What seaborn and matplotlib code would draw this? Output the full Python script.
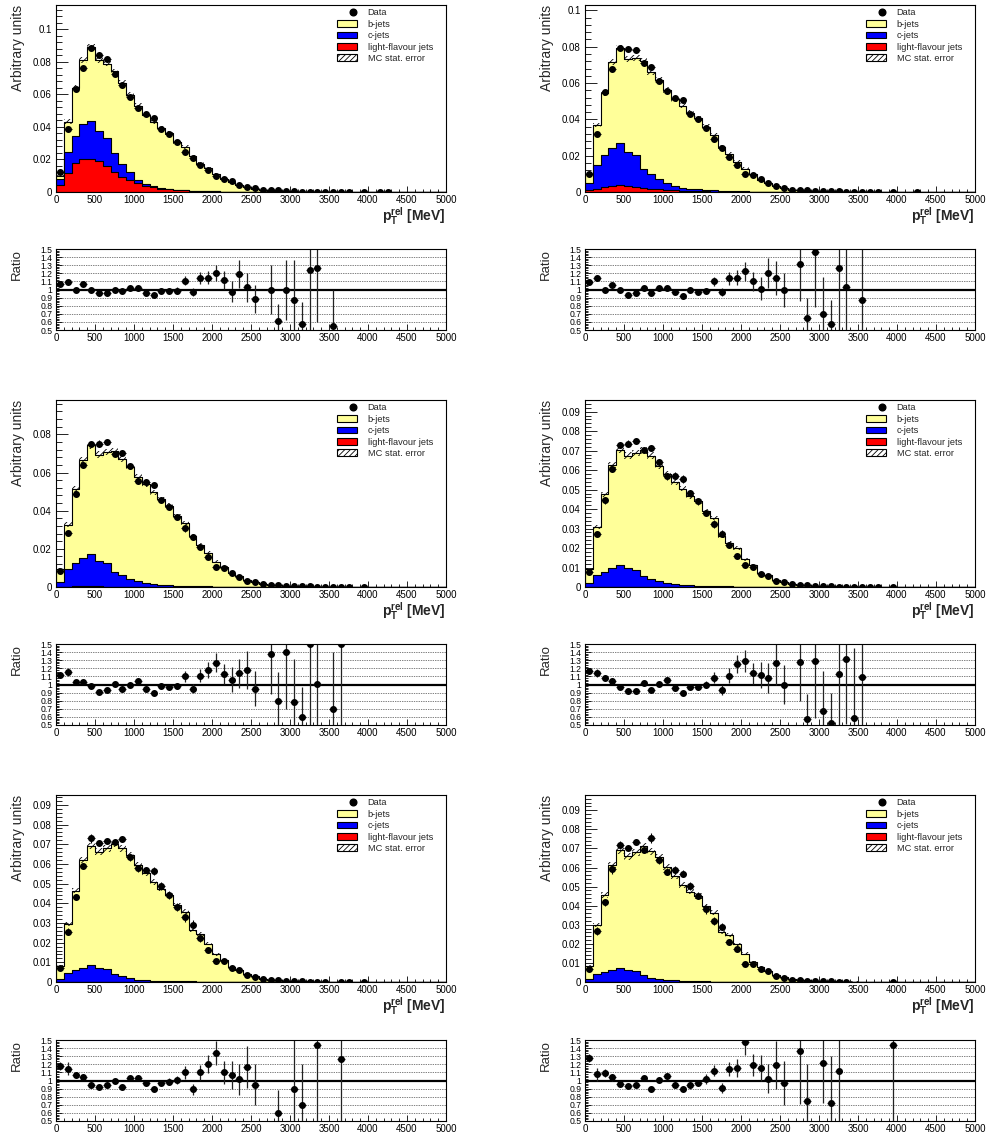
import numpy as np
import matplotlib
matplotlib.use("Agg")
import matplotlib.pyplot as plt
from matplotlib.ticker import MultipleLocator, FuncFormatter
from matplotlib.patches import Patch
from matplotlib.lines import Line2D
from matplotlib.legend_handler import HandlerLine2D
import seaborn as sns

nan = np.nan

# 100 MeV bins from 0 to 5000 MeV
EDGES = np.arange(0, 5001, 100)
CENTERS = (EDGES[:-1] + EDGES[1:]) / 2

LABELS = ["Data", "b-jets", "c-jets", "light-flavour jets", "MC stat. error"]

# ---- panel 1 ----
B1 = [0.0018, 0.0186, 0.0295, 0.0395, 0.0451, 0.0435, 0.0456, 0.0505, 0.0495, 0.0474, 0.0454, 0.0422, 0.0398, 0.0371, 0.0342, 0.0295, 0.0266, 0.0211, 0.0168, 0.0143, 0.0105, 0.0079, 0.0060, 0.0043, 0.0030, 0.0020, 0.0012, 0.0008, 0.0006, 0.0004, 0.0003, 0.0002, 0.0002, 0.0001, 0.0001, 0.0001, 0.00005, 0.00005]
C1 = [0.0041, 0.0129, 0.0164, 0.0213, 0.0235, 0.0185, 0.0175, 0.0113, 0.0082, 0.0048, 0.0020, 0.0013, 0.0006, 0.0004, 0.0003, 0.0002, 0.0002, 0.0001, 0.0001]
L1 = [0.0041, 0.0118, 0.0180, 0.0206, 0.0204, 0.0190, 0.0159, 0.0124, 0.0093, 0.0076, 0.0056, 0.0039, 0.0029, 0.0021, 0.0016, 0.0012, 0.0010, 0.0008, 0.0006, 0.0005, 0.0004, 0.0003, 0.0002, 0.0002, 0.0001, 0.0001]
DATA1 = [0.0125, 0.0390, 0.0635, 0.0760, 0.0885, 0.0845, 0.0820, 0.0725, 0.0655, 0.0585, 0.0515, 0.0480, 0.0454, 0.0388, 0.0355, 0.0309, 0.0247, 0.0212, 0.0169, 0.0134, 0.0097, 0.0082, 0.0066, 0.0041, 0.0031, 0.0022, 0.0014, 0.0012, 0.0010, 0.0006, 0.0004, 0.0003, 0.0003, 0.0002, 0.0002, 0.0001, 0.0001, 0.0001, 0, 0.0001, 0, 0.0001, 0.0001]
RATIO1 = [1.07, 1.09, 1.00, 1.07, 0.995, 0.955, 0.96, 1.00, 0.98, 1.015, 1.015, 0.96, 0.93, 0.985, 0.985, 0.985, 1.11, 0.97, 1.14, 1.145, 1.20, 1.115, 0.97, 1.19, 1.025, 0.88, nan, 1.00, 0.61, 0.99, 0.87, 0.58, 1.24, 1.265, nan, 0.55]
RATIO_ERR1 = [0.03, 0.03, 0.02, 0.02, 0.02, 0.02, 0.02, 0.02, 0.02, 0.02, 0.025, 0.025, 0.03, 0.03, 0.035, 0.04, 0.06, 0.05, 0.07, 0.08, 0.10, 0.11, 0.13, 0.17, 0.18, 0.17, nan, 0.30, 0.21, 0.37, 0.50, 0.27, 0.75, 0.67, nan, 0.44]

# ---- panel 2 ----
B2 = [0.0051, 0.0221, 0.0341, 0.0470, 0.0525, 0.0511, 0.0535, 0.0591, 0.0558, 0.0548, 0.0513, 0.0478, 0.0450, 0.0419, 0.0391, 0.0349, 0.0305, 0.0242, 0.0206, 0.0161, 0.0125, 0.0098, 0.0066, 0.0048, 0.0032, 0.0022, 0.0013, 0.0009, 0.0007, 0.0005, 0.0004, 0.0003, 0.0002, 0.0002, 0.0001, 0.0001, 0.00005, 0.00005]
C2 = [0.0037, 0.0130, 0.0175, 0.0211, 0.0231, 0.0188, 0.0175, 0.0107, 0.0083, 0.0055, 0.0039, 0.0024, 0.0017, 0.0013, 0.0011, 0.0008, 0.0007, 0.0005, 0.0005, 0.0004, 0.0003, 0.0002, 0.0002, 0.0001, 0.0001]
L2 = [0.0013, 0.0018, 0.0028, 0.0033, 0.0037, 0.0033, 0.0028, 0.0022, 0.0018, 0.0015, 0.0011, 0.0009, 0.0007, 0.0005, 0.0004, 0.0003, 0.0002, 0.0002, 0.0001, 0.0001]
DATA2 = [0.0098, 0.0319, 0.0550, 0.0679, 0.0793, 0.0788, 0.0780, 0.0710, 0.0686, 0.0613, 0.0554, 0.0520, 0.0507, 0.0430, 0.0402, 0.0354, 0.0290, 0.0244, 0.0194, 0.0151, 0.0101, 0.0096, 0.0070, 0.0048, 0.0033, 0.0022, 0.0013, 0.0011, 0.0009, 0.0006, 0.0005, 0.0004, 0.0003, 0.0002, 0.0002, 0.0001, 0.0001, 0.0001, 0, 0.0001, 0, 0, 0.0001]
RATIO2 = [1.09, 1.14, 1.00, 1.055, 1.00, 0.935, 0.96, 1.015, 0.955, 1.02, 1.015, 0.975, 0.915, 0.995, 0.975, 0.98, 1.10, 0.97, 1.14, 1.145, 1.225, 1.10, 1.01, 1.205, 1.145, 0.99, nan, 1.31, 0.65, 1.46, 0.70, 0.57, 1.265, 1.025, nan, 0.865]
RATIO_ERR2 = [0.04, 0.04, 0.02, 0.02, 0.02, 0.02, 0.02, 0.02, 0.02, 0.025, 0.025, 0.025, 0.03, 0.03, 0.035, 0.04, 0.06, 0.05, 0.08, 0.09, 0.12, 0.12, 0.14, 0.19, 0.21, 0.21, nan, 0.45, 0.25, 0.68, 0.45, 0.30, 0.80, 1.0, nan, 0.8]

# ---- panel 3 ----
B3 = [0.0068, 0.0235, 0.0389, 0.0514, 0.0571, 0.0556, 0.0581, 0.0632, 0.0607, 0.0584, 0.0543, 0.0519, 0.0480, 0.0448, 0.0416, 0.0365, 0.0330, 0.0260, 0.0217, 0.0177, 0.0131, 0.0104, 0.0073, 0.0056, 0.0035, 0.0027, 0.0018, 0.0012, 0.0009, 0.0007, 0.0005, 0.0004, 0.0003, 0.0002, 0.0002, 0.0001, 0.0001, 0.00005]
C3 = [0.0026, 0.0090, 0.0121, 0.0147, 0.0169, 0.0135, 0.0125, 0.0078, 0.0061, 0.0043, 0.0032, 0.0021, 0.0016, 0.0012, 0.0009, 0.0007, 0.0006, 0.0005, 0.0004, 0.0003, 0.0002, 0.0002, 0.0001, 0.0001]
L3 = [0.0001, 0.0002, 0.0003, 0.0003, 0.0003, 0.0003, 0.0002, 0.0002, 0.0001, 0.0001]
DATA3 = [0.0083, 0.0283, 0.0487, 0.0637, 0.0747, 0.0752, 0.0761, 0.0699, 0.0703, 0.0634, 0.0558, 0.0549, 0.0535, 0.0455, 0.0421, 0.0368, 0.0310, 0.0262, 0.0209, 0.0159, 0.0106, 0.0097, 0.0071, 0.0053, 0.0032, 0.0025, 0.0016, 0.0012, 0.0009, 0.0006, 0.0005, 0.0004, 0.0003, 0.0002, 0.0002, 0.0001, 0.0001, 0.0001, 0, 0.0001]
RATIO3 = [1.12, 1.15, 1.03, 1.03, 0.98, 0.91, 0.93, 1.01, 0.94, 0.99, 1.04, 0.95, 0.90, 0.98, 0.97, 0.98, 1.10, 0.95, 1.11, 1.18, 1.27, 1.13, 1.06, 1.14, 1.18, 0.95, nan, 1.38, 0.80, 1.40, 0.78, 0.60, 1.50, 1.01, nan, 0.70, 1.50]
RATIO_ERR3 = [0.04, 0.05, 0.03, 0.025, 0.02, 0.02, 0.02, 0.02, 0.02, 0.025, 0.03, 0.03, 0.03, 0.035, 0.04, 0.04, 0.07, 0.06, 0.08, 0.10, 0.12, 0.12, 0.15, 0.18, 0.23, 0.22, nan, 0.50, 0.36, 0.70, 0.53, 0.37, 1.0, 0.8, nan, 0.7, 1.0]

# ---- panel 4 ----
B4 = [0.0069, 0.0247, 0.0398, 0.0532, 0.0592, 0.0580, 0.0600, 0.0646, 0.0635, 0.0594, 0.0559, 0.0526, 0.0495, 0.0458, 0.0434, 0.0383, 0.0350, 0.0256, 0.0225, 0.0197, 0.0140, 0.0111, 0.0072, 0.0061, 0.0035, 0.0026, 0.0017, 0.0012, 0.0009, 0.0007, 0.0005, 0.0004, 0.0003, 0.0002, 0.0002, 0.0001, 0.0001, 0.00005]
C4 = [0.0020, 0.0060, 0.0076, 0.0093, 0.0110, 0.0093, 0.0085, 0.0054, 0.0039, 0.0029, 0.0021, 0.0014, 0.0010, 0.0009, 0.0007, 0.0006, 0.0005, 0.0004, 0.0003, 0.0002, 0.0002, 0.0001, 0.0001]
L4 = [0.0001, 0.0001, 0.0002, 0.0002, 0.0002, 0.0002, 0.0002, 0.0001, 0.0001]
DATA4 = [0.0078, 0.0272, 0.0445, 0.0606, 0.0730, 0.0736, 0.0748, 0.0701, 0.0713, 0.0640, 0.0568, 0.0571, 0.0554, 0.0481, 0.0441, 0.0381, 0.0325, 0.0273, 0.0216, 0.0159, 0.0112, 0.0104, 0.0069, 0.0057, 0.0031, 0.0024, 0.0014, 0.0012, 0.0009, 0.0005, 0.0004, 0.0003, 0.0002, 0.0002, 0.0001, 0.0001, 0.0001, 0.0001, 0, 0.0001]
RATIO4 = [1.165, 1.14, 1.08, 1.045, 0.97, 0.915, 0.925, 1.02, 0.935, 1.01, 1.05, 0.955, 0.90, 0.97, 0.97, 1.00, 1.085, 0.935, 1.11, 1.25, 1.29, 1.14, 1.12, 1.08, 1.26, 1.00, nan, 1.28, 0.58, 1.29, 0.67, 0.53, 1.13, 1.31, 0.59, 1.09]
RATIO_ERR4 = [0.04, 0.05, 0.04, 0.03, 0.02, 0.02, 0.02, 0.02, 0.02, 0.025, 0.03, 0.03, 0.03, 0.035, 0.04, 0.04, 0.07, 0.06, 0.09, 0.11, 0.13, 0.13, 0.16, 0.18, 0.27, 0.24, nan, 0.48, 0.30, 0.70, 0.50, 0.37, 0.70, 0.80, 0.86, 0.80]

# ---- panel 5 ----
B5 = [0.0066, 0.0248, 0.0405, 0.0549, 0.0606, 0.0591, 0.0613, 0.0659, 0.0650, 0.0625, 0.0582, 0.0544, 0.0502, 0.0469, 0.0437, 0.0387, 0.0354, 0.0260, 0.0244, 0.0193, 0.0140, 0.0109, 0.0076, 0.0059, 0.0039, 0.0029, 0.0017, 0.0012, 0.0009, 0.0007, 0.0005, 0.0004, 0.0003, 0.0002, 0.0002, 0.0001, 0.0001, 0.00005]
C5 = [0.0016, 0.0045, 0.0058, 0.0069, 0.0083, 0.0069, 0.0065, 0.0041, 0.0029, 0.0020, 0.0012, 0.0008, 0.0007, 0.0006, 0.0005, 0.0004, 0.0003, 0.0003, 0.0002, 0.0002, 0.0001, 0.0001]
L5 = [0.0001, 0.0001, 0.0001, 0.0002, 0.0002, 0.0002, 0.0001, 0.0001]
DATA5 = [0.0071, 0.0255, 0.0433, 0.0589, 0.0730, 0.0708, 0.0718, 0.0710, 0.0725, 0.0633, 0.0577, 0.0569, 0.0565, 0.0487, 0.0442, 0.0382, 0.0328, 0.0292, 0.0221, 0.0165, 0.0105, 0.0105, 0.0071, 0.0059, 0.0034, 0.0025, 0.0014, 0.0012, 0.0009, 0.0004, 0.0004, 0.0003, 0.0002, 0.0002, 0.0001, 0, 0.0001, 0.0001, 0, 0.0001]
RATIO5 = [1.18, 1.145, 1.065, 1.045, 0.945, 0.925, 0.95, 1.00, 0.925, 1.025, 1.035, 0.97, 0.895, 0.97, 0.985, 1.01, 1.10, 0.89, 1.10, 1.205, 1.34, 1.10, 1.065, 1.015, 1.165, 0.95, nan, nan, 0.60, nan, 0.89, 0.70, nan, 1.435, nan, nan, 1.27]
RATIO_ERR5 = [0.05, 0.08, 0.04, 0.03, 0.03, 0.02, 0.02, 0.02, 0.02, 0.03, 0.03, 0.03, 0.03, 0.04, 0.04, 0.05, 0.08, 0.07, 0.09, 0.11, 0.15, 0.14, 0.17, 0.19, 0.26, 0.25, nan, nan, 0.28, nan, 0.80, 0.50, nan, 1.0, nan, nan, 0.80]

# ---- panel 6 ----
B6 = [0.0071, 0.0258, 0.0403, 0.0549, 0.0616, 0.0597, 0.0623, 0.0676, 0.0661, 0.0640, 0.0591, 0.0545, 0.0503, 0.0469, 0.0447, 0.0395, 0.0361, 0.0261, 0.0244, 0.0196, 0.0148, 0.0104, 0.0079, 0.0058, 0.0035, 0.0026, 0.0014, 0.0012, 0.0009, 0.0007, 0.0005, 0.0004, 0.0003, 0.0002, 0.0002, 0.0001, 0.0001, 0.00005]
C6 = [0.0013, 0.0039, 0.0052, 0.0064, 0.0072, 0.0060, 0.0055, 0.0035, 0.0023, 0.0014, 0.0011, 0.0008, 0.0006, 0.0005, 0.0004, 0.0003, 0.0002, 0.0002, 0.0002, 0.0002, 0.0001, 0.0001]
L6 = [0.0001, 0.0001, 0.0001, 0.0001, 0.0002, 0.0001, 0.0001]
DATA6 = [0.0067, 0.0268, 0.0418, 0.0591, 0.0719, 0.0702, 0.0732, 0.0690, 0.0754, 0.0640, 0.0579, 0.0588, 0.0567, 0.0505, 0.0451, 0.0381, 0.0319, 0.0289, 0.0211, 0.0175, 0.0096, 0.0096, 0.0067, 0.0058, 0.0032, 0.0023, 0.0009, 0.0012, 0.0007, 0.0004, 0.0004, 0.0003, 0.0002, 0.0002, 0, 0, 0, 0, 0, 0.0001]
RATIO6 = [1.28, 1.08, 1.09, 1.04, 0.96, 0.93, 0.94, 1.03, 0.89, 1.01, 1.05, 0.95, 0.90, 0.94, 0.97, 1.02, 1.12, 0.91, 1.14, 1.15, 1.47, 1.19, 1.15, 1.02, 1.19, 0.97, nan, 1.37, 0.75, nan, 1.22, 0.72, 1.12, nan, nan, nan, nan, nan, nan, 1.44]
RATIO_ERR6 = [0.05, 0.08, 0.05, 0.04, 0.03, 0.02, 0.02, 0.02, 0.03, 0.03, 0.03, 0.03, 0.03, 0.04, 0.04, 0.06, 0.07, 0.06, 0.09, 0.11, 0.15, 0.14, 0.16, 0.18, 0.30, 0.27, nan, 0.66, 0.45, nan, 0.50, 0.58, 0.75, nan, nan, nan, nan, nan, nan, 1.0]

# y-axis range and major tick step of each main pad
Y_MAX = [0.115, 0.103, 0.098, 0.096, 0.095, 0.098]
Y_STEP = [0.02, 0.02, 0.02, 0.01, 0.01, 0.01]

# variance per unit content used for the MC statistical band
MC_STAT_VAR = 4e-5

YELLOW = "#FFFF99"
BLUE = "#0000FF"
RED = "#FF0000"

sns.set_theme(style="ticks")
plt.rcParams.update({
    "font.family": ["Liberation Sans", "DejaVu Sans"],
    "mathtext.fontset": "custom",
    "mathtext.rm": "Liberation Sans",
    "mathtext.bf": "Liberation Sans:bold",
    "mathtext.it": "Liberation Sans:italic",
    "hatch.linewidth": 0.6,
    "hatch.color": "black",
    "axes.linewidth": 0.8,
    "axes.edgecolor": "black",
    "figure.facecolor": "white",
    "axes.facecolor": "white",
})

W, H = 989, 1135
fig = plt.figure(figsize=(W / 100, H / 100), dpi=100)


def add_axes_px(left, top, width, height):
    return fig.add_axes([left / W, 1 - (top + height) / H, width / W, height / H])


def fill(values, value=0.0):
    arr = np.full(len(CENTERS), value, dtype=float)
    arr[:len(values)] = values
    return arr


class RightMarkerHandler(HandlerLine2D):
    def get_xdata(self, legend, xdescent, ydescent, width, height, fontsize):
        x = -xdescent + 0.8 * width
        return np.array([x]), np.array([x])


fmt_g = FuncFormatter(lambda v, p: f"{v:g}")
BIN_LIST = [float(e) for e in EDGES]
TICK_FS = 7.0
RATIO_Y_FS = 6.2
MARKER = 4.0


def draw_panel(ax, rax, b, c, l, data, ratio, rerr, ymax, ystep):
    b, c, l, data = fill(b), fill(c), fill(l), fill(data)
    ratio, rerr = fill(ratio, nan), fill(rerr, nan)
    total = b + c + l
    c_stack = c + l

    # stacked histograms, drawn from the full sum down to the lowest layer
    for heights, colour in [(total, YELLOW), (c_stack, BLUE), (l, RED)]:
        sns.histplot(x=CENTERS, weights=heights, bins=BIN_LIST, element="step",
                     fill=True, color=colour, alpha=1, edgecolor="black",
                     linewidth=0.8, ax=ax, zorder=1, legend=False)

    # MC statistical uncertainty band
    err = np.sqrt(total * MC_STAT_VAR)
    lo = np.append(total - err, total[-1] - err[-1])
    hi = np.append(total + err, total[-1] + err[-1])
    ax.fill_between(EDGES, lo, hi, step="post", facecolor="none",
                    edgecolor="black", hatch="//////", linewidth=0, zorder=2)

    # data points; their errors follow the ratio errors
    with np.errstate(invalid="ignore"):
        rel = np.nan_to_num(rerr / ratio)
    m = data > 0
    ax.errorbar(CENTERS[m], data[m], xerr=50, yerr=data[m] * rel[m], fmt="o",
                ms=MARKER, color="black", ecolor="black", elinewidth=0.8,
                capsize=0, zorder=3)

    ax.set_xlim(0, 5000)
    ax.set_ylim(0, ymax)
    ax.xaxis.set_major_locator(MultipleLocator(500))
    ax.xaxis.set_minor_locator(MultipleLocator(100))
    ax.yaxis.set_major_locator(MultipleLocator(ystep))
    ax.yaxis.set_minor_locator(MultipleLocator(ystep / 5))
    ax.yaxis.set_major_formatter(fmt_g)
    ax.xaxis.set_major_formatter(fmt_g)
    ax.tick_params(axis="both", which="both", direction="in", top=False,
                   right=False, width=0.6, colors="black", labelsize=TICK_FS)
    ax.tick_params(axis="y", which="major", length=8.5, pad=3.2)
    ax.tick_params(axis="y", which="minor", length=4.2)
    ax.tick_params(axis="x", which="major", length=4.5, pad=2.2)
    ax.tick_params(axis="x", which="minor", length=2.3)
    for s in ax.spines.values():
        s.set_color("black")
        s.set_linewidth(0.8)
        s.set_zorder(5)

    ax.set_ylabel("Arbitrary units", fontsize=10, loc="top")
    ax.yaxis.set_label_coords(-0.079, 1.0)
    ax.set_xlabel(r"$\mathbf{p}_{\mathbf{T}}^{\mathbf{rel}}$ [MeV]",
                  fontsize=10, fontweight="bold", loc="right")
    ax.xaxis.set_label_coords(1.0, -0.072)

    handles = [
        Line2D([], [], marker="o", ls="none", color="black", ms=4.8),
        Patch(facecolor=YELLOW, edgecolor="black", linewidth=0.8),
        Patch(facecolor=BLUE, edgecolor="black", linewidth=0.8),
        Patch(facecolor=RED, edgecolor="black", linewidth=0.8),
        Patch(facecolor="white", edgecolor="black", hatch="//////", linewidth=0.8),
    ]
    ax.legend(handles, LABELS, loc="upper left", bbox_to_anchor=(0.72, 0.982),
              frameon=False, fontsize=6.7, handlelength=2.2, handleheight=0.75,
              handletextpad=1.1, labelspacing=0.26, borderpad=0,
              borderaxespad=0, handler_map={handles[0]: RightMarkerHandler()})

    # ratio pad
    mr = ~np.isnan(ratio)
    rax.axhline(1.0, color="black", lw=1.6, zorder=2)
    rax.errorbar(CENTERS[mr], ratio[mr], xerr=50, yerr=rerr[mr], fmt="o",
                 ms=MARKER, color="black", ecolor="#222222", elinewidth=0.9,
                 capsize=0, zorder=3)
    rax.set_xlim(0, 5000)
    rax.set_ylim(0.5, 1.5)
    rax.set_yticks(np.round(np.arange(0.5, 1.51, 0.1), 1))
    rax.yaxis.set_minor_locator(MultipleLocator(0.02))
    rax.xaxis.set_major_locator(MultipleLocator(500))
    rax.xaxis.set_minor_locator(MultipleLocator(100))
    rax.yaxis.set_major_formatter(fmt_g)
    rax.xaxis.set_major_formatter(fmt_g)
    rax.yaxis.grid(True, which="major", color="black", lw=0.5,
                   linestyle=(0, (1, 1.5)))
    rax.tick_params(axis="both", which="both", direction="in", top=False,
                    right=False, width=0.6, colors="black")
    rax.tick_params(axis="y", which="major", length=4, pad=2.5,
                    labelsize=RATIO_Y_FS)
    rax.tick_params(axis="y", which="minor", length=2.2)
    rax.tick_params(axis="x", which="major", length=4, pad=2.2,
                    labelsize=TICK_FS)
    rax.tick_params(axis="x", which="minor", length=2)
    for s in rax.spines.values():
        s.set_color("black")
        s.set_linewidth(0.8)
        s.set_zorder(5)
    rax.set_ylabel("Ratio", fontsize=9.5, loc="top")
    rax.yaxis.set_label_coords(-0.085, 1.0)
    rax.set_xlabel("")


PANELS = [
    (B1, C1, L1, DATA1, RATIO1, RATIO_ERR1),
    (B2, C2, L2, DATA2, RATIO2, RATIO_ERR2),
    (B3, C3, L3, DATA3, RATIO3, RATIO_ERR3),
    (B4, C4, L4, DATA4, RATIO4, RATIO_ERR4),
    (B5, C5, L5, DATA5, RATIO5, RATIO_ERR5),
    (B6, C6, L6, DATA6, RATIO6, RATIO_ERR6),
]

COL_LEFT = [56, 585]
MAIN_TOP = [5, 400, 795]
RATIO_TOP = [249, 644, 1040]
PAD_W, MAIN_H, RATIO_H = 390, 187, 81

for i, (b, c, l, d, r, re) in enumerate(PANELS):
    row, col = divmod(i, 2)
    ax = add_axes_px(COL_LEFT[col], MAIN_TOP[row], PAD_W, MAIN_H)
    rax = add_axes_px(COL_LEFT[col], RATIO_TOP[row], PAD_W, RATIO_H)
    draw_panel(ax, rax, b, c, l, d, r, re, Y_MAX[i], Y_STEP[i])

fig.savefig("out.png", dpi=100)
